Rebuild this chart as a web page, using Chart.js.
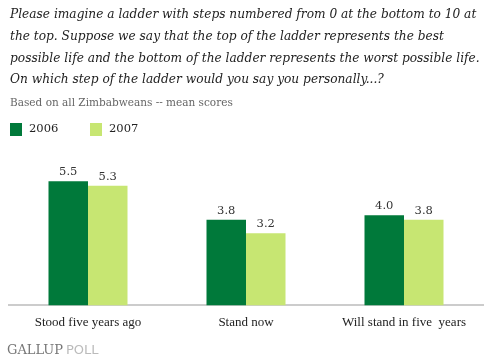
<!DOCTYPE html>
<html>
<head>
<meta charset="utf-8">
<script src="https://cdn.jsdelivr.net/npm/chart.js@4"></script>
<style>
  html, body { margin: 0; padding: 0; background: #fff; }
  #wrap { width: 490px; height: 361px; }
</style>
</head>
<body>
<div id="wrap"><canvas id="myChart" width="490" height="361"></canvas></div>
<script>
const categories = ["Stood five years ago", "Stand now", "Will stand in five  years"];
const series2006 = [5.5, 3.8, 4.0];
const series2007 = [5.3, 3.2, 3.8];
const seriesNames = ["2006", "2007"];

const titleLines = [
  "Please imagine a ladder with steps numbered from 0 at the bottom to 10 at",
  "the top. Suppose we say that the top of the ladder represents the best",
  "possible life and the bottom of the ladder represents the worst possible life.",
  "On which step of the ladder would you say you personally...?"
];
const subtitle = "Based on all Zimbabweans -- mean scores";

const serif = "'DejaVu Serif', 'Liberation Serif', serif";
const times = "'Liberation Serif', serif";

// header, legend, value labels and footer
const decorations = {
  id: "decorations",
  afterDraw(chart) {
    const ctx = chart.ctx;
    ctx.save();
    ctx.textBaseline = "middle";
    ctx.textAlign = "left";

    ctx.fillStyle = "#222";
    ctx.font = "italic 12.2px " + serif;
    titleLines.forEach((line, i) => ctx.fillText(line, 10, 15 + i * 21.7));

    ctx.fillStyle = "#666";
    ctx.font = "10.5px " + serif;
    ctx.fillText(subtitle, 10, 103);

    // legend from datasets
    let x = 10;
    chart.data.datasets.forEach((ds) => {
      ctx.fillStyle = ds.backgroundColor;
      ctx.fillRect(x, 123, 12, 13);
      ctx.fillStyle = "#222";
      ctx.font = "11.5px " + serif;
      ctx.fillText(ds.label, x + 19, 129);
      x += 80;
    });

    // value labels above bars
    ctx.textAlign = "center";
    ctx.font = "11.5px " + serif;
    ctx.fillStyle = "#333";
    chart.data.datasets.forEach((ds, di) => {
      chart.getDatasetMeta(di).data.forEach((bar, i) => {
        ctx.fillText(ds.data[i].toFixed(1), bar.x, bar.y - 9);
      });
    });

    // footer
    ctx.textAlign = "left";
    ctx.font = "13px " + serif;
    ctx.fillStyle = "#777";
    ctx.fillText("GALLUP", 7, 351);
    const w = ctx.measureText("GALLUP").width;
    ctx.font = "13px 'DejaVu Sans', sans-serif";
    ctx.fillStyle = "#bbb";
    ctx.fillText("POLL", 7 + w + 3, 351);
    ctx.restore();
  }
};

new Chart(document.getElementById("myChart"), {
  type: "bar",
  data: {
    labels: categories,
    datasets: [
      { label: seriesNames[0], data: series2006, backgroundColor: "#00793a" },
      { label: seriesNames[1], data: series2007, backgroundColor: "#c7e672" }
    ]
  },
  options: {
    responsive: false,
    animation: false,
    devicePixelRatio: 1,
    layout: { padding: { top: 170, left: 9, right: 7, bottom: 22 } },
    datasets: { bar: { categoryPercentage: 0.5, barPercentage: 1 } },
    plugins: {
      legend: { display: false },
      title: { display: false },
      tooltip: { enabled: false }
    },
    scales: {
      y: { display: false, min: 0, max: 6 },
      x: {
        grid: { display: false, drawTicks: false },
        border: { display: true, color: "#cccccc", width: 2 },
        ticks: {
          color: "#222", padding: 9, maxRotation: 0, minRotation: 0, autoSkip: false,
          font: { family: times, size: 13 }
        }
      }
    }
  },
  plugins: [decorations]
});
</script>
</body>
</html>
